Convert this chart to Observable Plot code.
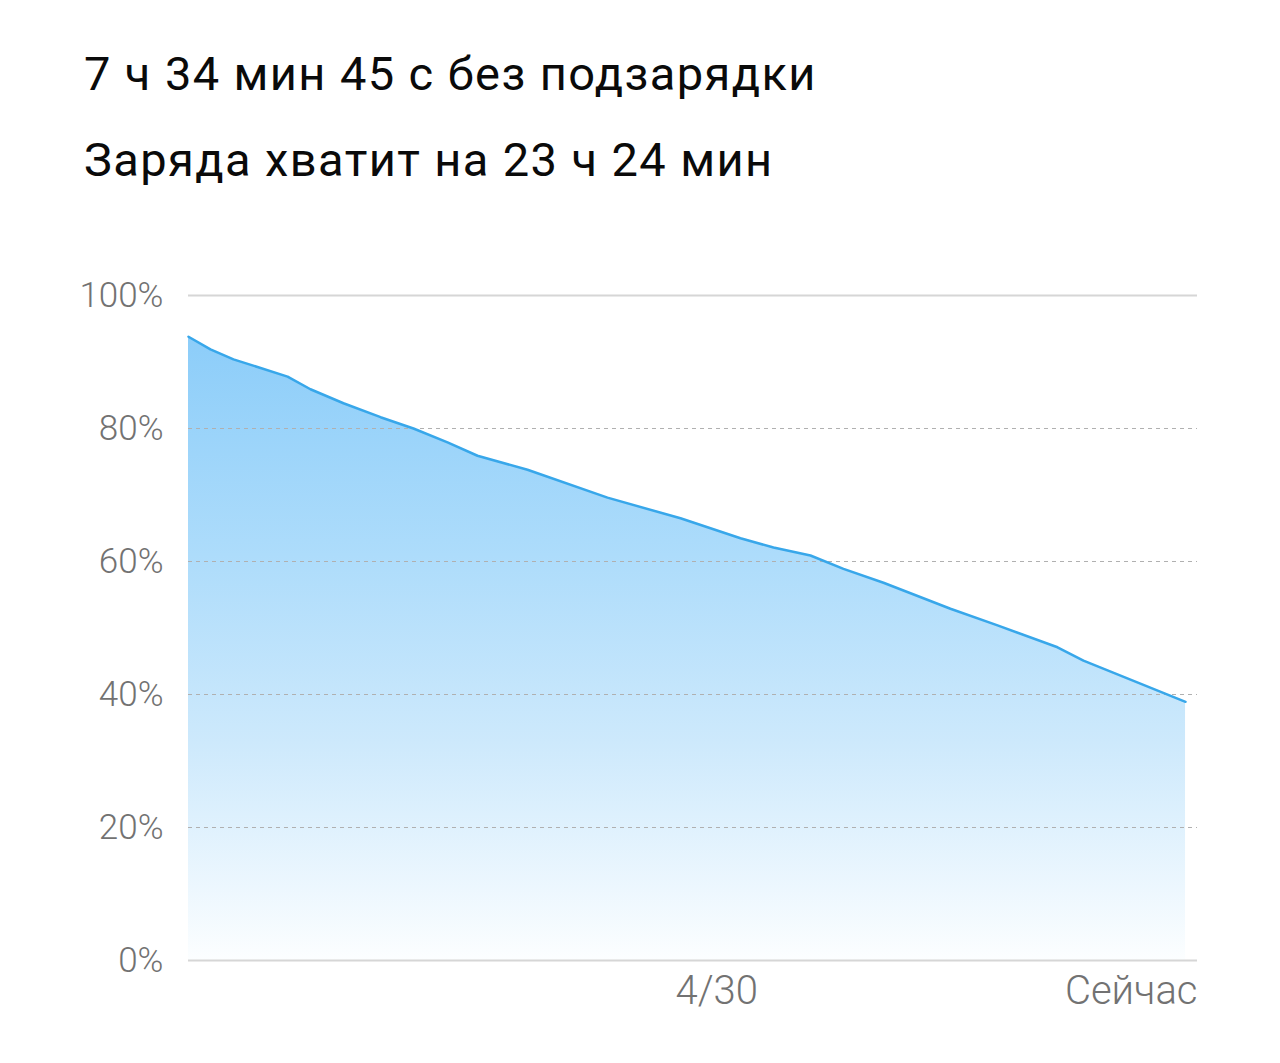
<!DOCTYPE html>
<html>
<head>
<meta charset="utf-8">
<script src="https://cdn.jsdelivr.net/npm/d3@7"></script>
<script src="https://cdn.jsdelivr.net/npm/@observablehq/plot@0.6"></script>
<style>
  html, body { margin: 0; padding: 0; background: #ffffff; }
  body { width: 1280px; height: 1063px; position: relative; overflow: hidden; font-family: Roboto, "Noto Sans", sans-serif; }
  .t1, .t2 { position: absolute; left: 84px; font-size: 47px; color: #0a0a0a; line-height: 1; white-space: nowrap; letter-spacing: 1.4px; }
  .t1 { top: 50px; }
  .t2 { top: 136px; }
  #chart { position: absolute; left: 0; top: 230px; }
</style>
</head>
<body>
<div class="t1">7 ч 34 мин 45 с без подзарядки</div>
<div class="t2">Заряда хватит на 23 ч 24 мин</div>
<div id="chart"></div>
<script>
// Hours since unplugged
const hours =   [0, 0.167, 0.342, 0.753, 0.927, 1.178, 1.460, 1.710, 1.969, 2.197, 2.577, 3.185, 3.740, 4.196, 4.447, 4.728, 4.979, 5.283, 5.792, 6.150, 6.606, 6.803, 7.579];
// Battery level, %
const battery = [93.8, 91.9, 90.4, 87.8, 85.9, 83.8, 81.7, 80.0, 77.9, 75.9, 73.8, 69.6, 66.5, 63.5, 62.1, 60.9, 58.9, 56.8, 52.9, 50.4, 47.1, 45.1, 38.9];

const yTicks = [0, 20, 40, 60, 80, 100];
const yTickLabels = ["0%", "20%", "40%", "60%", "80%", "100%"];
const xTickHours = [4.015, 7.67];
const xTickLabels = ["4/30", "Сейчас"];

const data = hours.map((h, i) => ({h, b: battery[i]}));

const gradient = () => {
  const ns = "http://www.w3.org/2000/svg";
  const defs = document.createElementNS(ns, "defs");
  const lg = document.createElementNS(ns, "linearGradient");
  lg.setAttribute("id", "batt-grad");
  lg.setAttribute("x1", "0"); lg.setAttribute("y1", "0");
  lg.setAttribute("x2", "0"); lg.setAttribute("y2", "1");
  [["0%", "#8ccdf9"], ["35%", "#addcfb"], ["65%", "#cde9fc"], ["100%", "#fcfeff"]].forEach(([o, c]) => {
    const s = document.createElementNS(ns, "stop");
    s.setAttribute("offset", o);
    s.setAttribute("stop-color", c);
    lg.appendChild(s);
  });
  defs.appendChild(lg);
  return defs;
};

const family = "Roboto, 'Noto Sans', sans-serif";

const chart = Plot.plot({
  width: 1280,
  height: 800,
  marginLeft: 188,
  marginRight: 83,
  marginTop: 65,
  marginBottom: 70,
  style: {background: "#ffffff", fontFamily: family},
  x: {domain: [0, 7.67], axis: null},
  y: {domain: [0, 100], axis: null},
  marks: [
    gradient,
    Plot.areaY(data, {x: "h", y: "b", fill: "url(#batt-grad)"}),
    Plot.ruleY([20, 40, 60, 80], {stroke: "#b0b0b0", strokeWidth: 1, strokeDasharray: "4,4"}),
    Plot.ruleY([0, 100], {stroke: "#d6d6d6", strokeWidth: 2}),
    Plot.lineY(data, {x: "h", y: "b", stroke: "#38a7ea", strokeWidth: 2.5}),
    Plot.text(yTicks, {
      x: 0, y: d => d, text: (d, i) => yTickLabels[i],
      textAnchor: "end", dx: -25, fontFamily: family, fontSize: 35, fontWeight: 300, fill: "#727272"
    }),
    Plot.text([0], {
      x: xTickHours[0], y: 0, text: () => xTickLabels[0],
      textAnchor: "middle", dy: 31, fontFamily: family, fontSize: 40, fontWeight: 300, fill: "#727272"
    }),
    Plot.text([1], {
      x: xTickHours[1], y: 0, text: () => xTickLabels[1],
      textAnchor: "end", dy: 31, fontFamily: family, fontSize: 40, fontWeight: 300, fill: "#727272"
    })
  ]
});
document.getElementById("chart").appendChild(chart);
</script>
</body>
</html>
